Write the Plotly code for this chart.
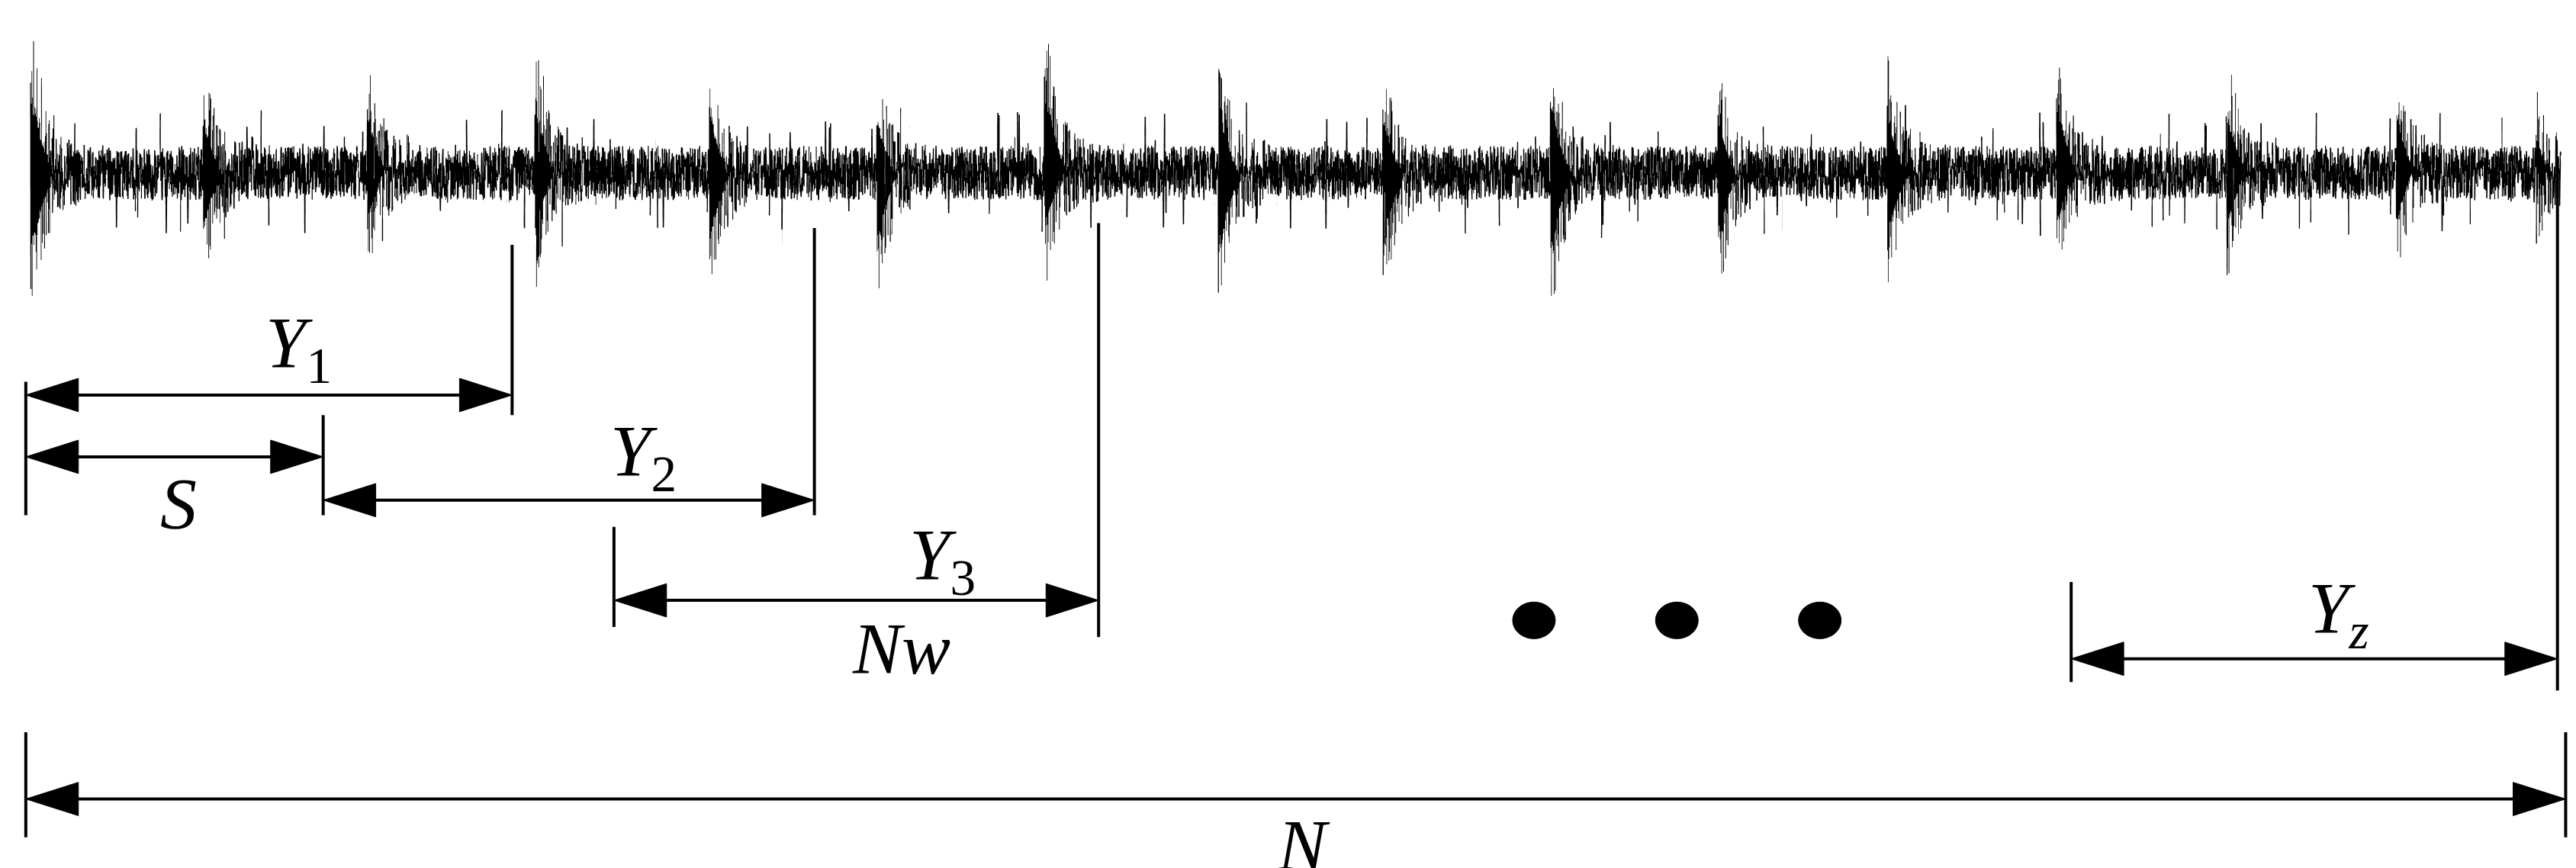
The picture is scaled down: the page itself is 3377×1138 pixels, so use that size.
import numpy as np
import plotly.graph_objects as go

# impulse positions (display px), peak top y, trough y (display px, y down)
imp_x = [15, 120, 220, 322, 428, 530, 632, 738, 838, 940, 1042, 1145, 1248, 1352, 1455, 1540]
imp_top = [20, 45, 40, 32, 40, 45, 15, 35, 45, 32, 45, 40, 28, 40, 42, 60]
imp_bot = [185, 155, 150, 160, 170, 172, 160, 180, 175, 180, 165, 170, 155, 155, 150, 130]
baseline = 100
x_start, x_end = 15, 1555

# annotation data
arrows = [  # x1, x2, y
    (12, 308, 233), (12, 193, 270), (193, 492, 296), (370, 665, 356),
    (1257, 1553, 391), (12, 1558, 475)]
vlines = [  # x, y1, y2
    (12, 225, 305), (308, 143, 245), (193, 245, 305), (492, 133, 305),
    (370, 312, 372), (665, 130, 378), (1257, 345, 405), (1553, 90, 410),
    (12, 435, 498), (1558, 435, 498)]
labels = [("<i>Y</i><sub>1</sub>", 178, 205), ("<i>S</i>", 105, 298), ("<i>Y</i><sub>2</sub>", 388, 270),
          ("<i>Y</i><sub>3</sub>", 570, 332), ("<i>Nw</i>", 545, 385), ("<i>Y<sub>z</sub></i>", 1420, 364),
          ("<i>N</i>", 790, 503)]
dots_x = [930, 1017, 1104]
dots_y = 368

# signal (deterministic hash noise + decaying impulse responses)
n = 9000
xs = np.linspace(x_start, x_end, n)
i = np.arange(n)
h = np.sin(i * 12.9898 + 78.233) * 43758.5453
h = (h - np.floor(h)) * 2 - 1
g = np.sin(i * 4.1414 + 3.3) * 24634.6345
g = (g - np.floor(g)) * 2 - 1
noise = h * 16 + np.where(np.abs(g) > 0.97, g * 22, 0)
sig = baseline + noise
for px, top, bot in zip(imp_x, imp_top, imp_bot):
    d = xs - px
    m = d >= 0
    env = np.exp(-np.clip(d, 0, None) / 8.0) * m
    osc = np.where(i % 2 == 0, -(baseline - top), (bot - baseline))
    sig = sig + env * osc * (0.5 + 0.5 * np.abs(h))
ys = sig

fig = go.Figure()
fig.add_trace(go.Scattergl(x=xs, y=ys, mode="lines", line=dict(color="black", width=1.6),
                           hoverinfo="skip"))

shapes = []
L, W = 32, 10
for x1, x2, y in arrows:
    shapes.append(dict(type="line", x0=x1 + 5, x1=x2 - 5, y0=y, y1=y, line=dict(color="black", width=4)))
    shapes.append(dict(type="path", path=f"M {x1} {y} L {x1+L} {y-W} L {x1+L} {y+W} Z",
                       fillcolor="black", line=dict(color="black", width=1)))
    shapes.append(dict(type="path", path=f"M {x2} {y} L {x2-L} {y-W} L {x2-L} {y+W} Z",
                       fillcolor="black", line=dict(color="black", width=1)))
for x, y1, y2 in vlines:
    shapes.append(dict(type="line", x0=x, x1=x, y0=y1, y1=y2, line=dict(color="black", width=4)))
for dx in dots_x:
    shapes.append(dict(type="circle", x0=dx - 13, x1=dx + 13, y0=dots_y - 11, y1=dots_y + 11,
                       fillcolor="black", line=dict(color="black", width=1)))

ann = [dict(x=x, y=y, text=t, showarrow=False, xref="x", yref="y",
            font=dict(family="Liberation Serif, Times New Roman, serif", size=96, color="black"))
       for t, x, y in labels]

fig.update_layout(width=3377, height=1138, margin=dict(l=0, r=0, t=0, b=0),
                  paper_bgcolor="white", plot_bgcolor="white", showlegend=False,
                  shapes=shapes, annotations=ann,
                  xaxis=dict(range=[0, 1568], visible=False),
                  yaxis=dict(range=[520, 0], visible=False))
fig.write_html("out.html")
